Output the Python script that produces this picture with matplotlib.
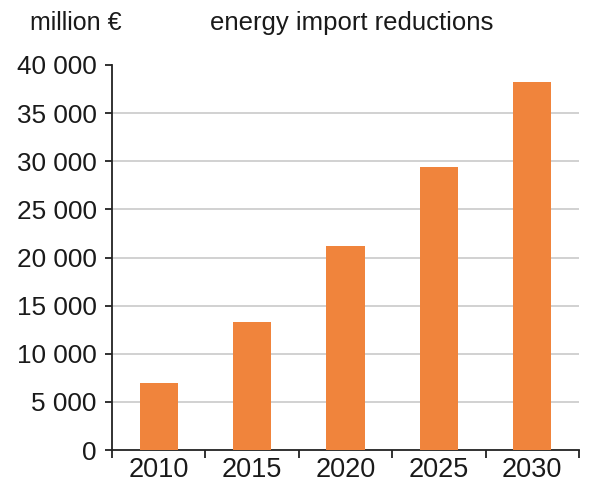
import matplotlib
matplotlib.use("Agg")
import matplotlib.pyplot as plt

years = ["2010", "2015", "2020", "2025", "2030"]
reductions = [7000, 13300, 21200, 29400, 38200]
y_ticks = [0, 5000, 10000, 15000, 20000, 25000, 30000, 35000, 40000]
y_tick_labels = ["0", "5 000", "10 000", "15 000", "20 000", "25 000", "30 000", "35 000", "40 000"]

plt.rcParams["font.family"] = ["Liberation Sans", "DejaVu Sans"]

fig = plt.figure(figsize=(5.91, 4.83), dpi=100)
ax = fig.add_axes([112 / 591, 33 / 483, 467 / 591, 385 / 483])

x = list(range(len(years)))
ax.bar(x, reductions, width=0.41, color="#F0843C", zorder=3)

ax.set_xlim(-0.5, len(years) - 0.5)
ax.set_ylim(0, 40000)

ax.set_yticks(y_ticks)
ax.set_yticklabels(y_tick_labels, fontsize=18.8, color="#1a1a1a")
for y in y_ticks[1:-1]:
    ax.axhline(y, color="#c9c9c9", lw=1.2, zorder=1)

# category labels centred under bars, tick marks on the boundaries
ax.set_xticks(x)
ax.set_xticklabels(years, fontsize=19.5, color="#1a1a1a")
ax.tick_params(axis="x", which="major", length=0, pad=5)
ax.set_xticks([i - 0.5 for i in range(len(years) + 1)], minor=True)
ax.tick_params(axis="x", which="minor", length=6, width=1.3, color="#222222", direction="out")
ax.tick_params(axis="y", length=5, width=1.3, color="#222222", pad=6)

for side in ("top", "right"):
    ax.spines[side].set_visible(False)
for side in ("left", "bottom"):
    ax.spines[side].set_color("#222222")
    ax.spines[side].set_linewidth(1.3)

fig.text(30 / 591, 1 - 23 / 483, "million €", fontsize=18, va="center", ha="left", color="#1a1a1a")
fig.text(352 / 591, 1 - 23 / 483, "energy import reductions", fontsize=18.5, va="center", ha="center", color="#1a1a1a")

fig.savefig("out.png", dpi=100, facecolor="white")
